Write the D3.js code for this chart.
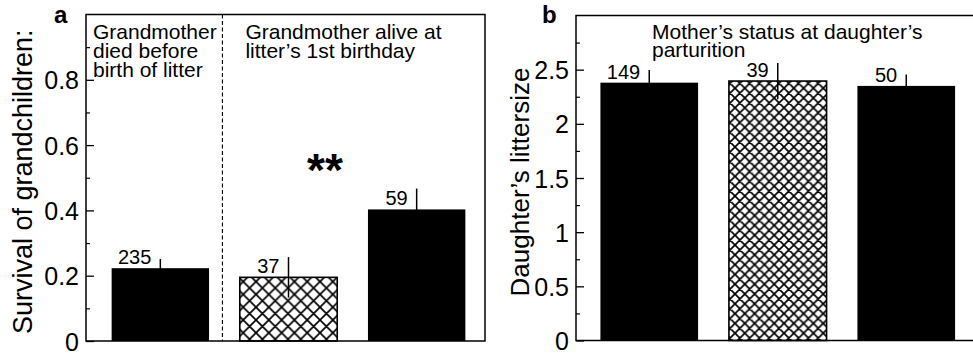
<!DOCTYPE html>
<html><head><meta charset="utf-8">
<script src="https://cdn.jsdelivr.net/npm/d3@7"></script>
<style>
html,body{margin:0;padding:0;background:#fff;}
svg{display:block;font-family:"Liberation Sans",Arial,Helvetica,sans-serif;}
</style></head><body>
<svg id="chart" width="973" height="360"></svg>
<script>
// Panel a: survival of grandchildren by grandmother status
const survivalGroups = ["died before birth", "alive, hatched", "alive, solid"];
const survivalMean = [0.223, 0.195, 0.403];
const survivalSE = [0.028, 0.062, 0.064];
const survivalN = [235, 37, 59];
const survivalTicks = [0, 0.2, 0.4, 0.6, 0.8];
const survivalHeaderDied = ["Grandmother", "died before", "birth of litter"];
const survivalHeaderAlive = ["Grandmother alive at", "litter\u2019s 1st birthday"];

// Panel b: daughter's litter size by mother's status
const litterGroups = ["status 1", "status 2", "status 3"];
const litterMean = [2.38, 2.395, 2.35];
const litterSE = [0.117, 0.167, 0.105];
const litterN = [149, 39, 50];
const litterTicks = [0, 0.5, 1, 1.5, 2, 2.5];
const litterHeader = ["Mother\u2019s status at daughter\u2019s", "parturition"];

// Fill style per bar position (same in both panels)
const barStyle = ["solid", "hatch", "solid"];

const svg = d3.select("#chart");
const defs = svg.append("defs");

function hatch(id, p) {
  const w = 1.7;
  const pat = defs.append("pattern")
    .attr("id", id).attr("patternUnits", "userSpaceOnUse")
    .attr("width", p).attr("height", p);
  pat.append("rect").attr("width", p).attr("height", p).attr("fill", "#fff");
  pat.append("path")
    .attr("d", `M0,0L${p},${p}M${p},0L0,${p}` +
      `M-2,2L2,-2M${p-2},${p+2}L${p+2},${p-2}` +
      `M${p-2},-2L${p+2},2M-2,${p-2}L2,${p+2}`)
    .attr("stroke", "#000").attr("stroke-width", w).attr("fill", "none");
}
hatch("hatchA", 12.8);
hatch("hatchB", 9.8);

function drawPanel(cfg) {
  const g = svg.append("g");
  const { x, y, left, right, top, bottom } = cfg;

  // bars
  g.selectAll("rect.bar").data(cfg.groups).join("rect")
    .attr("class", "bar")
    .attr("x", d => x(d))
    .attr("width", x.bandwidth())
    .attr("y", (d, i) => y(cfg.mean[i]))
    .attr("height", (d, i) => y(0) - y(cfg.mean[i]))
    .attr("fill", (d, i) => barStyle[i] === "hatch" ? `url(#${cfg.hatchId})` : "#000")
    .attr("stroke", "#000")
    .attr("stroke-width", (d, i) => barStyle[i] === "hatch" ? 1.6 : 0);

  // standard error lines
  g.selectAll("line.err").data(cfg.groups).join("line")
    .attr("class", "err")
    .attr("x1", d => x(d) + x.bandwidth() / 2)
    .attr("x2", d => x(d) + x.bandwidth() / 2)
    .attr("y1", (d, i) => y(cfg.mean[i] - cfg.se[i]))
    .attr("y2", (d, i) => y(cfg.mean[i] + cfg.se[i]))
    .attr("stroke", "#000").attr("stroke-width", 1.5);

  // sample sizes
  g.selectAll("text.n").data(cfg.groups).join("text")
    .attr("class", "n")
    .attr("x", d => x(d) + x.bandwidth() / 2 - 9)
    .attr("y", (d, i) => y(cfg.mean[i]) - 4)
    .attr("text-anchor", "end")
    .attr("font-size", 20)
    .text((d, i) => cfg.n[i]);

  // frame
  g.append("rect")
    .attr("x", left).attr("y", top)
    .attr("width", right - left).attr("height", bottom - top)
    .attr("fill", "none").attr("stroke", "#000").attr("stroke-width", 1.5);

  // major ticks with labels, minor ticks without
  const major = d3.axisLeft(y).tickValues(cfg.ticks).tickSize(-8).tickPadding(7)
    .tickFormat(d => String(d));
  const ax = g.append("g").attr("transform", `translate(${left},0)`).call(major);
  ax.select(".domain").remove();
  ax.selectAll(".tick line").attr("stroke", "#000").attr("stroke-width", 1.3);
  ax.selectAll(".tick text").attr("fill", "#000").attr("font-size", 25)
    .attr("font-family", null).attr("dy", "0.36em");

  const minor = d3.axisLeft(y).tickValues(cfg.minor).tickSize(-4).tickFormat("");
  const mx = g.append("g").attr("transform", `translate(${left},0)`).call(minor);
  mx.select(".domain").remove();
  mx.selectAll(".tick line").attr("stroke", "#000").attr("stroke-width", 1.2);

  // y-axis title
  g.append("text")
    .attr("transform", `translate(${cfg.titleX},${(top + bottom) / 2 + 4}) rotate(-90)`)
    .attr("text-anchor", "middle")
    .attr("font-size", cfg.titleSize)
    .text(cfg.title);

  // panel letter
  g.append("text")
    .attr("x", cfg.letterX).attr("y", 23)
    .attr("font-size", 24).attr("font-weight", "bold")
    .text(cfg.letter);

  return g;
}

function headerBlock(g, lines, x0, y0, lh) {
  const t = g.append("text").attr("font-size", 21);
  lines.forEach((s, i) => t.append("tspan").attr("x", x0).attr("y", y0 + i * lh).text(s));
}

// ---- panel a ----
const aLeft = 86, aRight = 485, aTop = 14.5, aBottom = 341;
const yA = d3.scaleLinear().domain([0, 1]).range([aBottom, aTop]);
const xA = d3.scaleBand().domain(survivalGroups).range([aLeft, aLeft + 405])
  .paddingInner(0.24).paddingOuter(0.2);
const gA = drawPanel({
  x: xA, y: yA, left: aLeft, right: aRight, top: aTop, bottom: aBottom,
  groups: survivalGroups, mean: survivalMean, se: survivalSE, n: survivalN,
  ticks: survivalTicks,
  minor: d3.range(0.1, 1, 0.2),
  hatchId: "hatchA",
  title: "Survival of grandchildren:", titleX: 32, titleSize: 27,
  letter: "a", letterX: 54
});

// dashed divider between the two grandmother groups
const divX = (xA(survivalGroups[0]) + xA.bandwidth() + xA(survivalGroups[1])) / 2 - 2;
gA.append("line")
  .attr("x1", divX).attr("x2", divX).attr("y1", aTop).attr("y2", aBottom)
  .attr("stroke", "#000").attr("stroke-width", 1.1).attr("stroke-dasharray", "4,2.5");

headerBlock(gA, survivalHeaderDied, aLeft + 7, 39, 19);
headerBlock(gA, survivalHeaderAlive, divX + 23, 39, 19);

// significance marker between the two "alive" groups
gA.append("text")
  .attr("x", 325).attr("y", 186)
  .attr("text-anchor", "middle")
  .attr("font-size", 46).attr("font-weight", "bold")
  .text("**");

// ---- panel b ----
const bLeft = 576, bRight = 980, bTop = 15.5, bBottom = 340.5;
const yB = d3.scaleLinear().domain([0, 3]).range([bBottom, bTop]);
const xB = d3.scaleBand().domain(litterGroups).range([bLeft, bLeft + 403.5])
  .paddingInner(0.24).paddingOuter(0.19);
const gB = drawPanel({
  x: xB, y: yB, left: bLeft, right: bRight, top: bTop, bottom: bBottom,
  groups: litterGroups, mean: litterMean, se: litterSE, n: litterN,
  ticks: litterTicks,
  minor: d3.range(0.25, 3, 0.5),
  hatchId: "hatchB",
  title: "Daughter\u2019s littersize", titleX: 529, titleSize: 26,
  letter: "b", letterX: 542
});
headerBlock(gB, litterHeader, 652, 39, 17.5);
</script>
</body></html>
